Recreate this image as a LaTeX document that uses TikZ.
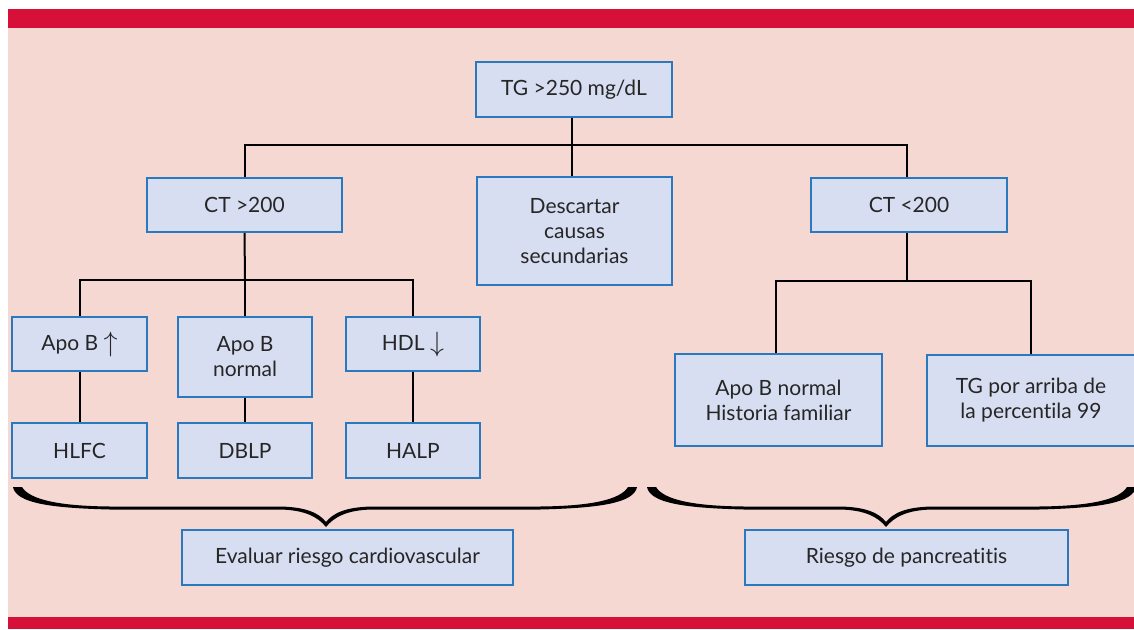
\documentclass[tikz,border=0pt]{standalone}
\usepackage{fontspec}
\setmainfont{Lato}[Ligatures=CommonOff]
\definecolor{barred}{HTML}{D7103A}
\definecolor{bgpink}{HTML}{F6D8D3}
\definecolor{boxfill}{HTML}{D8DEF2}
\definecolor{boxline}{HTML}{2A78BE}
\newcommand{\uparr}{\raisebox{-1pt}{\scalebox{1.35}{$\uparrow$}}}
\newcommand{\downarr}{\raisebox{-1pt}{\scalebox{1.35}{$\downarrow$}}}
\tikzset{
  box/.style={draw=boxline, fill=boxfill, line width=2pt, rectangle, inner sep=0pt,
    align=center, font=\fontsize{21}{25}\selectfont, text=black!85},
  link/.style={draw=black, line width=2pt},
  bracefill/.style={fill=black, draw=none}
}
\newcommand{\mybrace}[4]{% x0, xt, x1, y-top
  \fill[bracefill] (#1,#4) .. controls ({#1+3},{#4+16}) and ({#1+37},{#4+21}) .. ({#1+97},{#4+22.5})
     -- ({#2-46},{#4+22.5}) .. controls ({#2-21},{#4+23}) and ({#2-8},{#4+30}) .. (#2,{#4+40})
     .. controls ({#2+8},{#4+30}) and ({#2+21},{#4+23}) .. ({#2+46},{#4+22.5})
     -- ({#3-97},{#4+22.5}) .. controls ({#3-37},{#4+21}) and ({#3-3},{#4+16}) .. (#3,#4)
     -- ({#3-9},#4) .. controls ({#3-17},{#4+13}) and ({#3-47},{#4+19}) .. ({#3-97},{#4+19.5})
     -- ({#2+46},{#4+19.5}) .. controls ({#2+20},{#4+20}) and ({#2+7},{#4+26}) .. (#2,{#4+35})
     .. controls ({#2-7},{#4+26}) and ({#2-20},{#4+20}) .. ({#2-46},{#4+19.5})
     -- ({#1+97},{#4+19.5}) .. controls ({#1+47},{#4+19}) and ({#1+17},{#4+13}) .. ({#1+9},#4)
     -- cycle;}
\begin{document}
\begin{tikzpicture}[x=1pt,y=-1pt]
\useasboundingbox (0,0) rectangle (1134,629);
\fill[white] (0,0) rectangle (1134,629);
\fill[bgpink] (8,28) rectangle (1134,617);
\fill[barred] (8,9) rectangle (1134,28);
\fill[barred] (8,617) rectangle (1134,629);

\node[box, minimum width=196pt, minimum height=55pt] (tg) at (574,89.5) {TG >250 mg/dL};
\node[box, minimum width=195pt, minimum height=54pt] (ct1) at (244.5,205) {CT >200};
\node[box, minimum width=195pt, minimum height=108pt] (desc) at (574.5,231) {Descartar\\causas\\secundarias};
\node[box, minimum width=196pt, minimum height=54pt] (ct2) at (909,205) {CT <200};

\node[box, minimum width=135pt, minimum height=54pt] (apoup) at (79.5,344) {Apo B \uparr};
\node[box, minimum width=134pt, minimum height=80pt] (aponorm) at (245,357) {Apo B\\normal};
\node[box, minimum width=134pt, minimum height=54pt] (hdl) at (413,344) {HDL \downarr};

\node[box, minimum width=135pt, minimum height=55pt] (hlfc) at (79.5,450.5) {HLFC};
\node[box, minimum width=134pt, minimum height=55pt] (dblp) at (245,450.5) {DBLP};
\node[box, minimum width=134pt, minimum height=55pt] (halp) at (413,450.5) {HALP};

\node[box, minimum width=207pt, minimum height=92pt] (hist) at (778.5,400) {Apo B normal\\Historia familiar};
\node[box, minimum width=208pt, minimum height=91pt] (tgp) at (1031,400.5) {TG por arriba de\\la percentila 99};

\node[box, minimum width=331pt, minimum height=55pt] (eval) at (347.5,557.5) {Evaluar riesgo cardiovascular};
\node[box, minimum width=323pt, minimum height=55pt] (ries) at (906.5,557.5) {Riesgo de pancreatitis};

\coordinate (j1) at (572,145);
\coordinate (j2) at (245,280);
\coordinate (j3) at (907,281);

\draw[link] (tg.south -| j1) -- (j1);
\draw[link] (j1) -- (j1 |- desc.north);
\draw[link] (ct1.north) |- (j1) -| (j3 |- ct2.north);
\draw[link] (ct1.south) -- (j2);
\draw[link] (apoup.north) |- (j2) -| (hdl.north);
\draw[link] (j2) -- (aponorm.north);
\draw[link] (apoup.south) -- (hlfc.north);
\draw[link] (aponorm.south) -- (dblp.north);
\draw[link] (hdl.south) -- (halp.north);
\draw[link] (j3 |- ct2.south) -- (j3);
\draw[link] (hist.north -| 776,0) |- (j3) -| (tgp.north);

\mybrace{13}{326}{637}{487}
\mybrace{647}{886}{1136}{487}
\end{tikzpicture}
\end{document}
